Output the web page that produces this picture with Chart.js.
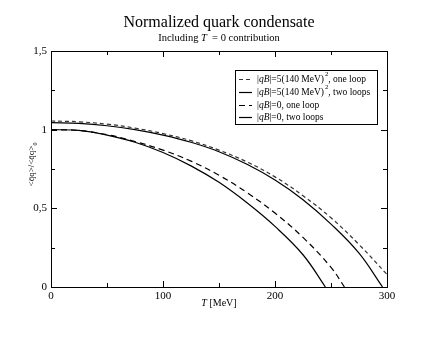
<!DOCTYPE html>
<html>
<head>
<meta charset="utf-8">
<script src="https://cdn.jsdelivr.net/npm/chart.js@4.4.1/dist/chart.umd.min.js"></script>
<style>
  html, body { margin: 0; padding: 0; background: #fff; }
  #wrap { width: 436px; height: 337px; }
</style>
</head>
<body>
<div id="wrap"><canvas id="grafico"></canvas></div>
<script>
// datos (T en MeV)
const tB1 = [0, 25, 50, 75, 100, 125, 150, 175, 200, 225, 250, 275, 300];
const vB1 = [1.055, 1.05, 1.035, 1.01, 0.975, 0.93, 0.87, 0.795, 0.70, 0.58, 0.44, 0.27, 0.08];

const tB2 = [0, 25, 50, 75, 100, 125, 150, 175, 200, 225, 250, 275, 296];
const vB2 = [1.045, 1.04, 1.025, 1.0, 0.965, 0.92, 0.86, 0.78, 0.68, 0.555, 0.40, 0.215, 0.0];

const t01 = [0, 25, 50, 75, 100, 125, 150, 175, 200, 225, 250, 262];
const v01 = [1.0, 0.995, 0.968, 0.925, 0.87, 0.80, 0.71, 0.60, 0.47, 0.315, 0.125, 0.0];

const t02 = [0, 25, 50, 75, 100, 125, 150, 175, 200, 225, 245];
const v02 = [1.0, 0.995, 0.965, 0.92, 0.855, 0.77, 0.665, 0.535, 0.385, 0.205, 0.0];

const etiquetas = [
  '|qB|=5(140 MeV)², one loop',
  '|qB|=5(140 MeV)², two loops',
  '|qB|=0, one loop',
  '|qB|=0, two loops'
];
const xTicks = [0, 100, 200, 300];
const yTicks = [0, 0.5, 1, 1.5];

const serif = '"Liberation Serif", "DejaVu Serif", serif';

function puntos(t, v) {
  return t.map((x, i) => ({ x: x, y: v[i] }));
}

const estilos = [
  { color: '#333', dash: [4, 3] },
  { color: '#000', dash: [] },
  { color: '#000', dash: [6, 4] },
  { color: '#000', dash: [] }
];

const series = [[tB1, vB1], [tB2, vB2], [t01, v01], [t02, v02]];

// dibuja texto con qB en cursiva y ² como superindice
function textoRico(ctx, txt, x, y, size) {
  const partes = txt.split(/(qB|²)/);
  let cx = x;
  partes.forEach(p => {
    if (!p) return;
    if (p === 'qB') {
      ctx.font = 'italic ' + size + 'px ' + serif;
      ctx.fillText(p, cx, y);
      cx += ctx.measureText(p).width;
    } else if (p === '²') {
      ctx.font = (size * 0.7) + 'px ' + serif;
      ctx.fillText('2', cx + 1, y - size * 0.5);
      cx += ctx.measureText('2').width + 1;
    } else {
      ctx.font = size + 'px ' + serif;
      ctx.fillText(p, cx, y);
      cx += ctx.measureText(p).width;
    }
  });
}

const extras = {
  id: 'extras',
  afterDraw(chart) {
    const ctx = chart.ctx;
    const a = chart.chartArea;
    const xs = chart.scales.x;
    const ys = chart.scales.y;
    ctx.save();

    // marco
    ctx.strokeStyle = '#000';
    ctx.lineWidth = 1;
    ctx.setLineDash([]);
    ctx.strokeRect(Math.round(a.left) + 0.5, Math.round(a.top) + 0.5,
      Math.round(a.right - a.left), Math.round(a.bottom - a.top));

    // ticks hacia adentro
    ctx.beginPath();
    for (let t = 0; t <= 300; t += 50) {
      const px = Math.round(xs.getPixelForValue(t)) + 0.5;
      const l = (t % 100 === 0) ? 6 : 4;
      ctx.moveTo(px, a.bottom); ctx.lineTo(px, a.bottom - l);
      ctx.moveTo(px, a.top); ctx.lineTo(px, a.top + l);
    }
    for (let v = 0; v <= 1.5001; v += 0.25) {
      const py = Math.round(ys.getPixelForValue(v)) + 0.5;
      const l = (Math.abs(v * 2 - Math.round(v * 2)) < 1e-6) ? 6 : 4;
      ctx.moveTo(a.left, py); ctx.lineTo(a.left + l, py);
      ctx.moveTo(a.right, py); ctx.lineTo(a.right - l, py);
    }
    ctx.stroke();

    // titulo
    ctx.fillStyle = '#000';
    ctx.textBaseline = 'middle';
    ctx.textAlign = 'center';
    ctx.font = '16px ' + serif;
    const cx = (a.left + a.right) / 2;
    ctx.fillText('Normalized quark condensate', cx, 23);

    // subtitulo con T en cursiva
    ctx.textAlign = 'left';
    const s1 = 'Including ', s3 = ' = 0 contribution';
    ctx.font = 'italic 10.5px ' + serif;
    const wT = ctx.measureText('T ').width;
    ctx.font = '10.5px ' + serif;
    const w1 = ctx.measureText(s1).width, w3 = ctx.measureText(s3).width;
    let sx = cx - (w1 + wT + w3) / 2;
    ctx.fillText(s1, sx, 38);
    ctx.font = 'italic 10.5px ' + serif;
    ctx.fillText('T ', sx + w1, 38);
    ctx.font = '10.5px ' + serif;
    ctx.fillText(s3, sx + w1 + wT, 38);

    // titulo eje x
    ctx.font = 'italic 10px ' + serif;
    const wt = ctx.measureText('T').width;
    ctx.font = '10px ' + serif;
    const wr = ctx.measureText(' [MeV]').width;
    let xx = cx - (wt + wr) / 2;
    ctx.font = 'italic 10px ' + serif;
    ctx.fillText('T', xx, 303);
    ctx.font = '10px ' + serif;
    ctx.fillText(' [MeV]', xx + wt, 303);

    // titulo eje y
    ctx.save();
    ctx.translate(32, 164);
    ctx.rotate(-Math.PI / 2);
    ctx.font = '9px ' + serif;
    const yl = '<q\u0304q>/<q\u0304q>';
    const wy = ctx.measureText(yl).width;
    ctx.fillText(yl, -wy / 2 - 2, 0);
    ctx.font = '6px ' + serif;
    ctx.fillText('0', wy / 2 - 2, 3);
    ctx.restore();

    // leyenda
    const lx = 235, ly = 70, lw = 142, lh = 54;
    ctx.fillStyle = '#fff';
    ctx.fillRect(lx, ly, lw, lh);
    ctx.strokeStyle = '#000';
    ctx.lineWidth = 1;
    ctx.strokeRect(lx + 0.5, ly + 0.5, lw, lh);
    const filas = [78.5, 91.5, 104.5, 117];
    chart.data.datasets.forEach((ds, i) => {
      const fy = Math.round(filas[i]) + 0.5;
      ctx.strokeStyle = ds.borderColor;
      ctx.lineWidth = 1.2;
      ctx.setLineDash(ds.borderDash || []);
      ctx.beginPath();
      ctx.moveTo(239, fy); ctx.lineTo(252, fy);
      ctx.stroke();
      ctx.setLineDash([]);
      ctx.fillStyle = '#000';
      ctx.textAlign = 'left';
      textoRico(ctx, ds.label, 257, filas[i] + 0.5, 9.5);
    });

    ctx.restore();
  }
};

const lienzo = document.getElementById('grafico');
new Chart(lienzo, {
  type: 'line',
  plugins: [extras],
  data: {
    datasets: series.map((s, i) => ({
      label: etiquetas[i],
      data: puntos(s[0], s[1]),
      borderColor: estilos[i].color,
      borderDash: estilos[i].dash,
      borderWidth: 1.2,
      pointRadius: 0,
      fill: false,
      tension: 0.4
    }))
  },
  options: {
    responsive: true,
    maintainAspectRatio: false,
    animation: false,
    layout: { padding: { top: 51, right: 49, left: 0, bottom: 0 } },
    plugins: {
      legend: { display: false },
      tooltip: { enabled: false },
      title: { display: false }
    },
    scales: {
      x: {
        type: 'linear',
        min: 0,
        max: 300,
        afterBuildTicks: sc => { sc.ticks = xTicks.map(v => ({ value: v })); },
        afterFit: sc => { sc.height = 50; },
        grid: { drawOnChartArea: false, drawTicks: false },
        border: { display: false },
        ticks: {
          color: '#000',
          padding: 3,
          maxRotation: 0,
          font: { family: serif, size: 11 }
        }
      },
      y: {
        min: 0,
        max: 1.5,
        afterBuildTicks: sc => { sc.ticks = yTicks.map(v => ({ value: v })); },
        afterFit: sc => { sc.width = 51; },
        grid: { drawOnChartArea: false, drawTicks: false },
        border: { display: false },
        ticks: {
          color: '#000',
          padding: 4,
          font: { family: serif, size: 11 },
          callback: v => String(v).replace('.', ',')
        }
      }
    }
  }
});
</script>
</body>
</html>
